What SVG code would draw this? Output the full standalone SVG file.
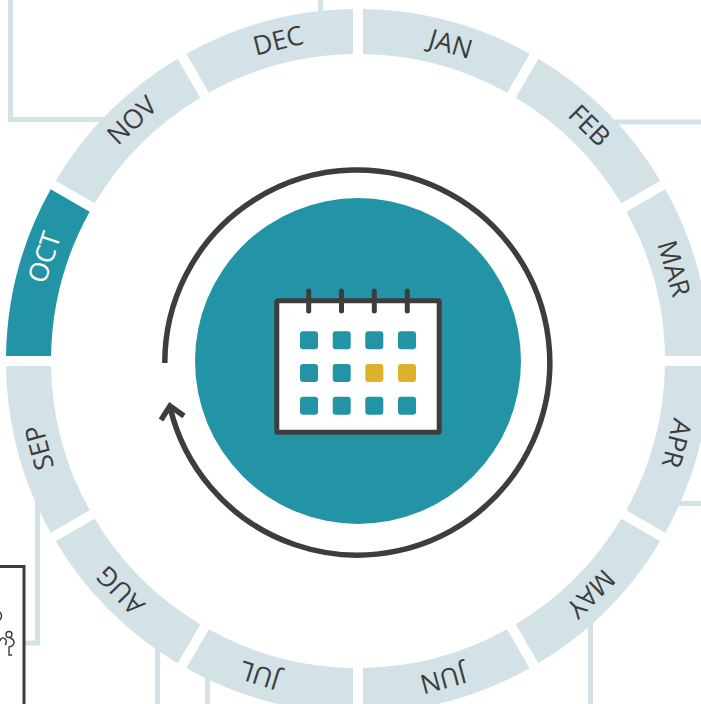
<svg xmlns="http://www.w3.org/2000/svg" width="701" height="704" viewBox="0 0 701 704">
<style>
.wire{fill:none;stroke:#d3e2e7;stroke-width:5}
.seg{fill:#d3e2e7}
.on{fill:#2394a6}
.lbl{font-family:"Open Sans",sans-serif;font-size:26.5px;fill:#3d3d3d;text-anchor:middle}
.lblon{fill:#fff}
.dark{fill:none;stroke:#3d3d3d;stroke-width:5.5}
.t{fill:#2394a6}
.y{fill:#ddb22b}
</style>
<defs>
<path id="s" d="M5 -351.96A352 352 0 0 1 171.66 -307.31L149.15 -268.33A307 307 0 0 0 5 -306.96Z"/>
</defs>
<rect width="701" height="704" fill="#fff"/>
<g id="connectors">
<path class="wire" d="M10.5 0V119.5H110"/>
<path class="wire" d="M320.5 0V14"/>
<path class="wire" d="M608 122H701"/>
<path class="wire" d="M675 503.5H701"/>
<path class="wire" d="M590.5 615V704"/>
<path class="wire" d="M37.5 498V643H24"/>
<path class="wire" d="M157.5 645V704"/>
<path class="wire" d="M207.5 675V704"/>
</g>
<g id="side-box">
<path d="M0 566.5H24V704" fill="none" stroke="#3d3d3d" stroke-width="3"/>
<path d="M0 612Q3 616 0 620M0 641C1 637 4 637 6 640Q7 643 5 645M10 638C16 640 15 646 9 647L9 655H12" fill="none" stroke="#3d3d3d" stroke-width="1.4"/>
<circle cx="9" cy="634.5" r="3" fill="none" stroke="#3d3d3d" stroke-width="1.4"/>
</g>
<g id="ring" transform="translate(358 361)">
<g id="jan"><use href="#s" class="seg"/><text class="lbl" transform="rotate(16.3) translate(0 -321)">JAN</text></g>
<g id="feb"><use href="#s" class="seg" transform="rotate(30)"/><text class="lbl" transform="rotate(44.5) translate(0 -321)">FEB</text></g>
<g id="mar"><use href="#s" class="seg" transform="rotate(60)"/><text class="lbl" transform="rotate(73.7) translate(0 -320)">MAR</text></g>
<g id="apr"><use href="#s" class="seg" transform="rotate(90)"/><text class="lbl" transform="rotate(104.5) translate(0 -320)">APR</text></g>
<g id="may"><use href="#s" class="seg" transform="rotate(120)"/><text class="lbl" transform="rotate(135) translate(0 -320)">MAY</text></g>
<g id="jun"><use href="#s" class="seg" transform="rotate(150)"/><text class="lbl" transform="rotate(165) translate(0 -320)">JUN</text></g>
<g id="jul"><use href="#s" class="seg" transform="rotate(180)"/><text class="lbl" transform="rotate(197.4) translate(0 -320)">JUL</text></g>
<g id="aug"><use href="#s" class="seg" transform="rotate(210)"/><text class="lbl" transform="rotate(226) translate(0 -321)">AUG</text></g>
<g id="sep"><use href="#s" class="seg" transform="rotate(240)"/><text class="lbl" transform="rotate(254.8) translate(0 -321)">SEP</text></g>
<g id="oct"><use href="#s" class="on" transform="rotate(270)"/><text class="lbl lblon" transform="rotate(288.3) translate(0 -321)">OCT</text></g>
<g id="nov"><use href="#s" class="seg" transform="rotate(300)"/><text class="lbl" transform="rotate(316.8) translate(0 -321)">NOV</text></g>
<g id="dec"><use href="#s" class="seg" transform="rotate(330)"/><text class="lbl" transform="rotate(346) translate(0 -321)">DEC</text></g>
</g>
<g id="hub">
<circle cx="358" cy="361" r="163" class="t"/>
<path class="dark" d="M164.8 363A192.5 192.5 0 1 1 170 407"/>
<path class="dark" d="M161 420L170 406L184 416"/>
</g>
<g id="calendar">
<rect x="276.8" y="300.8" width="162.4" height="131.4" rx="1" fill="#fff" stroke="#3d3d3d" stroke-width="5" stroke-linejoin="round"/>
<path d="M308.7 291V311M341.5 291V311M374.3 291V311M407.3 291V311" fill="none" stroke="#3d3d3d" stroke-width="5" stroke-linecap="round"/>
<rect class="t" x="300" y="331.3" width="18" height="18" rx="3"/><rect class="t" x="332.7" y="331.3" width="18" height="18" rx="3"/><rect class="t" x="365.3" y="331.3" width="18" height="18" rx="3"/><rect class="t" x="398" y="331.3" width="18" height="18" rx="3"/>
<rect class="t" x="300" y="364" width="18" height="18" rx="3"/><rect class="t" x="332.7" y="364" width="18" height="18" rx="3"/><rect class="y" x="365.3" y="364" width="18" height="18" rx="3"/><rect class="y" x="398" y="364" width="18" height="18" rx="3"/>
<rect class="t" x="300" y="396.8" width="18" height="18" rx="3"/><rect class="t" x="332.7" y="396.8" width="18" height="18" rx="3"/><rect class="t" x="365.3" y="396.8" width="18" height="18" rx="3"/><rect class="t" x="398" y="396.8" width="18" height="18" rx="3"/>
</g>
</svg>
